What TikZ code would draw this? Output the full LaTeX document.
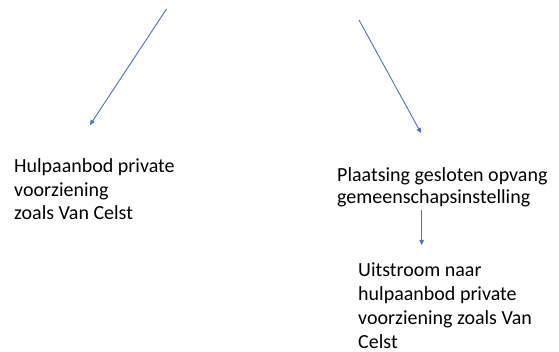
\documentclass[tikz,border=0pt]{standalone}
\usepackage{fontspec}
\setmainfont{Carlito}
\usetikzlibrary{arrows.meta}
\definecolor{arrowblue}{HTML}{4472C4}
\tikzset{
  lbl/.style={anchor=base west, inner sep=0pt, align=left, font=\fontsize{20}{23.5}\selectfont, text=black},
  conn/.style={draw=arrowblue, line width=0.9pt, -{Triangle[length=5pt,width=4.5pt]}}
}
\begin{document}
\begin{tikzpicture}[x=1pt,y=-1pt]
\useasboundingbox (0,0) rectangle (559,352);
\node[lbl] (hulp) at (14,220) {Hulpaanbod private\\voorziening\\zoals Van Celst};
\node[lbl, font=\fontsize{20}{21.8}\selectfont] (plaats) at (337,203.3) {Plaatsing gesloten opvang\\gemeenschapsinstelling};
\node[lbl, font=\fontsize{20}{23.8}\selectfont] (uit) at (358,348.3) {Uitstroom naar\\hulpaanbod private\\voorziening zoals Van\\Celst};
\coordinate (s1) at (166.5,9);
\coordinate (e1) at (90,125);
\coordinate (s2) at (359,20);
\coordinate (e2) at (421,133);
\coordinate (s3) at (421.7,210);
\coordinate (e3) at (421.7,245);
\draw[conn] (s1) -- (e1);
\draw[conn] (s2) -- (e2);
\draw[conn] (s3) -- (e3);
\end{tikzpicture}
\end{document}
